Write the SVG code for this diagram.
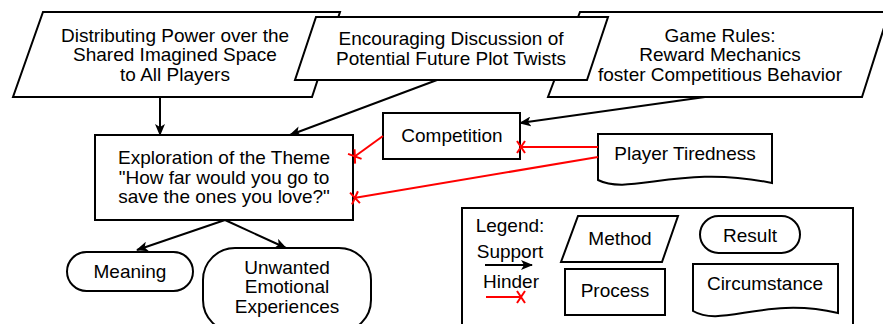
<svg xmlns="http://www.w3.org/2000/svg" width="883" height="324" viewBox="0 0 883 324">
<defs>
<style>
.n{fill:#fff;stroke:#000;stroke-width:2}
.t{font-family:"Liberation Sans",Arial,Helvetica,sans-serif;font-size:19px;fill:#000;text-anchor:middle}
.s{fill:none;stroke:#000;stroke-width:2}
.h{fill:none;stroke:#f00;stroke-width:2}
</style>
<marker id="arrow" viewBox="0 0 12 10" refX="11" refY="5" markerWidth="12" markerHeight="10" markerUnits="userSpaceOnUse" orient="auto">
<path d="M0,0 L12,5 L0,10 L3,5 Z" fill="#000"/>
</marker>
<marker id="cross" viewBox="-6 -7 12 14" refX="1" refY="0" markerWidth="12" markerHeight="14" markerUnits="userSpaceOnUse" orient="auto" overflow="visible">
<path d="M-4,-6 L4,6 M-4,6 L4,-6" fill="none" stroke="#f00" stroke-width="2"/>
</marker>
</defs>
<rect width="883" height="324" fill="#fff"/>
<g id="distributing">
<path class="n" d="M43,12 L340,12 L312,97 L13,97 Z"/>
<text class="t" x="175" y="41.5">Distributing Power over the</text>
<text class="t" x="175" y="61">Shared Imagined Space</text>
<text class="t" x="175" y="80.5">to All Players</text>
</g>
<g id="gamerules">
<path class="n" d="M580,12 L889,12 L862,97 L548,97 Z"/>
<text class="t" x="720" y="41.5">Game Rules:</text>
<text class="t" x="720" y="61">Reward Mechanics</text>
<text class="t" x="720" y="80.5">foster Competitious Behavior</text>
</g>
<g id="encouraging">
<path class="n" d="M316,17 L608,17 L587,80 L295,80 Z"/>
<text class="t" x="451" y="45">Encouraging Discussion of</text>
<text class="t" x="451" y="64.5">Potential Future Plot Twists</text>
</g>
<g id="exploration">
<rect class="n" x="95" y="135" width="258" height="85"/>
<text class="t" x="224" y="164">Exploration of the Theme</text>
<text class="t" x="224" y="183.5">"How far would you go to</text>
<text class="t" x="224" y="203">save the ones you love?"</text>
</g>
<g id="competition">
<rect class="n" x="383" y="113" width="137" height="46"/>
<text class="t" x="452" y="142">Competition</text>
</g>
<g id="tiredness">
<path class="n" d="M598,134 L772,134 L772,183 C680,164 630,196 598,180 Z"/>
<text class="t" x="685" y="160">Player Tiredness</text>
</g>
<g id="meaning">
<rect class="n" x="67" y="252" width="126" height="39" rx="19.5"/>
<text class="t" x="130" y="278">Meaning</text>
</g>
<g id="unwanted">
<rect class="n" x="203" y="248" width="168" height="84" rx="32"/>
<text class="t" x="287" y="273.5">Unwanted</text>
<text class="t" x="287" y="293">Emotional</text>
<text class="t" x="287" y="312.5">Experiences</text>
</g>
<g id="legend">
<rect class="n" x="462" y="208" width="391" height="124"/>
<text class="t" x="510" y="232">Legend:</text>
<text class="t" x="510" y="258">Support</text>
<line class="s" x1="485" y1="265" x2="532" y2="265" marker-end="url(#arrow)"/>
<text class="t" x="511" y="288">Hinder</text>
<line class="h" x1="486" y1="297" x2="522" y2="297" marker-end="url(#cross)"/>
</g>
<g id="legend-method">
<path class="n" d="M578,216 L678,216 L662,262 L561,262 Z"/>
<text class="t" x="620" y="245">Method</text>
</g>
<g id="legend-result">
<rect class="n" x="700" y="216" width="100" height="37" rx="18.5"/>
<text class="t" x="750" y="242">Result</text>
</g>
<g id="legend-process">
<rect class="n" x="565" y="269" width="100" height="46"/>
<text class="t" x="615" y="297">Process</text>
</g>
<g id="legend-circumstance">
<path class="n" d="M693,264 L838,264 L838,313 C765,296 722,328 693,311 Z"/>
<text class="t" x="765" y="290">Circumstance</text>
</g>
<g id="connectors">
<line class="s" x1="160" y1="97" x2="160" y2="135" marker-end="url(#arrow)"/>
<line class="s" x1="437" y1="80" x2="290" y2="135" marker-end="url(#arrow)"/>
<line class="s" x1="705" y1="97" x2="520" y2="123" marker-end="url(#arrow)"/>
<line class="s" x1="225" y1="220" x2="137" y2="250" marker-end="url(#arrow)"/>
<line class="s" x1="225" y1="220" x2="286" y2="248" marker-end="url(#arrow)"/>
<line class="h" x1="383" y1="136" x2="354" y2="157" marker-end="url(#cross)"/>
<line class="h" x1="598" y1="147" x2="520" y2="147" marker-end="url(#cross)"/>
<line class="h" x1="598" y1="157" x2="354" y2="198" marker-end="url(#cross)"/>
</g>
</svg>
